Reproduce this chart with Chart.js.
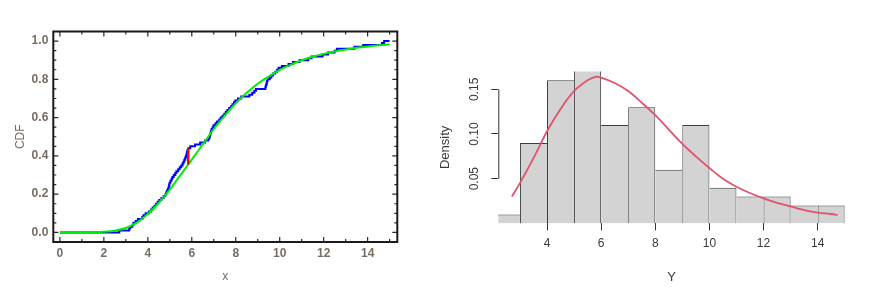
<!DOCTYPE html>
<html><head><meta charset="utf-8">
<script src="https://cdn.jsdelivr.net/npm/chart.js"></script>
<style>
html,body{margin:0;padding:0;background:#fff;}
#wrap{position:relative;width:873px;height:290px;overflow:hidden;background:#fff;}
#c1{position:absolute;left:0;top:0;}
#c2{position:absolute;left:420px;top:0;}
</style></head><body>
<div id="wrap"><canvas id="c1" width="420" height="290"></canvas><canvas id="c2" width="453" height="290"></canvas></div>
<script>
// ---------- Left panel: empirical CDF vs fitted CDF ----------
const cdfXTicks = [0, 2, 4, 6, 8, 10, 12, 14];
const cdfYTicks = [0.0, 0.2, 0.4, 0.6, 0.8, 1.0];
// step positions of the empirical CDF and the value after each step
const ecdfX = [0, 2.70, 3.15, 3.20, 3.30, 3.35, 3.45, 3.55, 3.75, 3.80, 3.90,
  4.05, 4.15, 4.22, 4.30, 4.38, 4.45, 4.52, 4.62, 4.72, 4.80, 4.84, 4.88, 4.92, 4.95, 4.97, 4.99,
  5.03, 5.08, 5.12, 5.18, 5.25, 5.30, 5.38, 5.45, 5.52, 5.58, 5.62, 5.66, 5.70, 5.73, 5.76, 5.78, 5.80, 5.84, 5.93,
  6.15, 6.38, 6.60, 6.75, 6.80, 6.83, 6.85, 6.87, 6.90, 6.95, 6.99,
  7.08, 7.15, 7.25, 7.32, 7.40, 7.48, 7.55, 7.62, 7.70, 7.78, 7.85, 7.92, 7.98,
  8.10, 8.25, 8.62, 8.75, 8.85, 8.92,
  9.35, 9.37, 9.40, 9.42, 9.45, 9.55, 9.62, 9.70, 9.80, 9.88, 9.95,
  10.10, 10.40, 10.60, 10.90, 11.30, 11.45, 11.95, 12.20, 12.50, 12.60, 13.40, 13.80, 14.65, 14.75, 15.0];
const ecdfY = [0, 0.01, 0.02, 0.03, 0.04, 0.05, 0.06, 0.07, 0.08, 0.09, 0.10,
  0.11, 0.12, 0.13, 0.14, 0.15, 0.16, 0.17, 0.18, 0.19, 0.20, 0.21, 0.22, 0.23, 0.24, 0.25, 0.26,
  0.27, 0.28, 0.29, 0.30, 0.31, 0.32, 0.33, 0.34, 0.35, 0.36, 0.37, 0.38, 0.39, 0.40, 0.41, 0.42, 0.43, 0.44, 0.45,
  0.46, 0.47, 0.48, 0.49, 0.50, 0.51, 0.52, 0.53, 0.54, 0.55, 0.56,
  0.57, 0.58, 0.59, 0.60, 0.61, 0.62, 0.63, 0.64, 0.65, 0.66, 0.67, 0.68, 0.69,
  0.70, 0.71, 0.72, 0.73, 0.74, 0.75,
  0.76, 0.77, 0.78, 0.79, 0.80, 0.81, 0.82, 0.83, 0.84, 0.85, 0.86,
  0.87, 0.88, 0.89, 0.90, 0.91, 0.92, 0.93, 0.94, 0.95, 0.96, 0.97, 0.98, 0.99, 1.00, 1.00];
// fitted CDF (green)
const fitX = [0, 1, 1.5, 2, 2.5, 3, 3.5, 4, 4.5, 5, 5.5, 6, 6.5, 7, 7.5, 8, 8.5, 9, 9.5, 10, 10.5, 11, 11.5, 12, 12.5, 13, 13.5, 14, 14.5, 15];
const fitY = [0, 0, 0.0005, 0.003, 0.009, 0.023, 0.051, 0.096, 0.155, 0.224, 0.302, 0.38, 0.46, 0.54, 0.61, 0.675, 0.73, 0.777, 0.815, 0.85, 0.876, 0.90, 0.918, 0.933, 0.946, 0.956, 0.965, 0.972, 0.978, 0.983];
// Kolmogorov-Smirnov gap (red)
const ksX = [5.84, 5.84];
const ksY = [0.355, 0.44];

// ---------- Right panel: histogram of Y with density ----------
const binStarts = [2, 3, 4, 5, 6, 7, 8, 9, 10, 11, 12, 13, 14];
const densities = [0.01, 0.09, 0.16, 0.19, 0.11, 0.13, 0.06, 0.11, 0.04, 0.03, 0.03, 0.02, 0.02];
const curveX = [2.7, 3.0, 3.5, 4.0, 4.5, 5.0, 5.5, 5.8, 6.0, 6.5, 7.0, 7.5, 8.0, 8.5, 9.0, 9.5, 10.0, 10.5, 11.0, 11.5, 12.0, 12.5, 13.0, 13.5, 14.0, 14.5, 14.74];
const curveY = [0.030, 0.045, 0.073, 0.103, 0.128, 0.148, 0.160, 0.164, 0.163, 0.157, 0.148, 0.135, 0.121, 0.105, 0.089, 0.075, 0.062, 0.050, 0.041, 0.034, 0.028, 0.023, 0.019, 0.015, 0.012, 0.0105, 0.0093];
const histXTicks = [4, 6, 8, 10, 12, 14];
const histYTicks = [0.05, 0.10, 0.15];
const histYLabels = ['0.05', '0.10', '0.15'];

const SANS = "'Liberation Sans', Arial, sans-serif";
const mmaLabel = '#776d63';

// Mathematica-style frame with inward ticks
const framePlugin = {
  id: 'mmaFrame',
  afterDatasetsDraw(chart) {
    const {ctx, chartArea: a, scales: {x, y}} = chart;
    ctx.save();
    ctx.strokeStyle = '#2a2a2a';
    ctx.lineWidth = 1.2;
    ctx.beginPath();
    for (let v = 0; v <= 15; v += 1) {
      const px = x.getPixelForValue(v);
      const len = v % 2 === 0 ? 5 : 3;
      ctx.moveTo(px, a.bottom); ctx.lineTo(px, a.bottom - len);
      ctx.moveTo(px, a.top); ctx.lineTo(px, a.top + len);
    }
    for (let k = 0; k <= 20; k++) {
      const v = k * 0.05;
      const py = y.getPixelForValue(v);
      const len = k % 4 === 0 ? 5 : 3;
      ctx.moveTo(a.left, py); ctx.lineTo(a.left + len, py);
      ctx.moveTo(a.right, py); ctx.lineTo(a.right - len, py);
    }
    ctx.stroke();
    ctx.lineWidth = 2;
    ctx.strokeStyle = '#1a1a1a';
    ctx.strokeRect(a.left, a.top, a.right - a.left, a.bottom - a.top);
    ctx.restore();
  }
};

new Chart(document.getElementById('c1'), {
  type: 'line',
  data: {
    datasets: [
      { data: ksX.map((v, i) => ({x: v, y: ksY[i]})), borderColor: '#ff0000', borderWidth: 2.5, pointRadius: 0 },
      { data: fitX.map((v, i) => ({x: v, y: fitY[i]})), borderColor: '#00ee00', borderWidth: 2, pointRadius: 0, cubicInterpolationMode: 'monotone' },
      { data: ecdfX.map((v, i) => ({x: v, y: ecdfY[i]})), borderColor: '#0000ff', borderWidth: 2, pointRadius: 0, stepped: 'before' }
    ]
  },
  options: {
    responsive: false, animation: false, events: [],
    layout: { padding: { top: 31.5, right: 22.7, left: 0, bottom: 0 } },
    plugins: { legend: { display: false }, tooltip: { enabled: false } },
    scales: {
      x: {
        type: 'linear', min: -0.3, max: 15.35,
        afterBuildTicks: s => { s.ticks = cdfXTicks.map(v => ({value: v})); },
        afterFit: s => { s.height = 48; },
        grid: { display: false, drawTicks: false, tickLength: 0 }, border: { display: false },
        ticks: { autoSkip: false, maxRotation: 0, padding: 4, color: mmaLabel,
          font: { family: SANS, size: 12, weight: 'bold' }, callback: v => String(v) },
        title: { display: true, text: 'x', color: mmaLabel, font: { family: SANS, size: 12 }, padding: { top: 0, bottom: 5.8 } }
      },
      y: {
        type: 'linear', min: -0.05, max: 1.05,
        afterBuildTicks: s => { s.ticks = cdfYTicks.map(v => ({value: v})); },
        afterFit: s => { s.width = 53.3; },
        grid: { display: false, drawTicks: false, tickLength: 0 }, border: { display: false },
        ticks: { autoSkip: false, padding: 5, color: mmaLabel,
          font: { family: SANS, size: 12, weight: 'bold' }, callback: v => Number(v).toFixed(1) },
        title: { display: true, text: 'CDF', color: mmaLabel, font: { family: SANS, size: 12 }, padding: { top: 13, bottom: 0 } }
      }
    }
  },
  plugins: [framePlugin]
});

// R-style y axis line spanning first to last tick
const rAxisPlugin = {
  id: 'rAxis',
  afterDraw(chart) {
    const {ctx, chartArea: a, scales: {y}} = chart;
    ctx.save();
    ctx.strokeStyle = '#333';
    ctx.lineWidth = 1;
    ctx.beginPath();
    ctx.moveTo(a.left + 0.5, y.getPixelForValue(histYTicks[0]));
    ctx.lineTo(a.left + 0.5, y.getPixelForValue(histYTicks[histYTicks.length - 1]));
    ctx.stroke();
    ctx.restore();
  }
};

const rText = '#3a3a3a';
new Chart(document.getElementById('c2'), {
  type: 'bar',
  data: {
    datasets: [
      { type: 'line', data: curveX.map((v, i) => ({x: v, y: curveY[i]})), borderColor: '#DF536B', borderWidth: 1.8,
        pointRadius: 0, tension: 0.4 },
      { type: 'bar', data: binStarts.map((s, i) => ({x: s + 0.5, y: densities[i]})),
        backgroundColor: '#d3d3d3', borderColor: '#3c3c3c',
        borderWidth: ctx => {
          const i = ctx.dataIndex;
          if (i === undefined) return 1;
          const h = densities;
          return { top: 1, bottom: 0,
            left: (i === 0 || h[i] >= h[i - 1]) ? 1 : 0,
            right: (i === h.length - 1 || h[i] > h[i + 1]) ? 1 : 0 };
        },
        barPercentage: 1, categoryPercentage: 1, inflateAmount: 0, clip: 0 }
    ]
  },
  options: {
    responsive: false, animation: false, events: [],
    layout: { padding: { top: 71.4, right: 28.3, left: 0, bottom: 0 } },
    plugins: { legend: { display: false }, tooltip: { enabled: false } },
    scales: {
      x: {
        type: 'linear', min: 2.2, max: 15, offset: false,
        afterBuildTicks: s => { s.ticks = histXTicks.map(v => ({value: v})); },
        afterFit: s => { s.height = 66.6; },
        grid: { drawOnChartArea: false, drawTicks: true, tickLength: 7, color: '#333', offset: false },
        border: { display: false },
        ticks: { autoSkip: false, maxRotation: 0, padding: 6, color: rText,
          font: { family: SANS, size: 12 }, callback: v => String(v) },
        title: { display: true, text: 'Y', color: rText, font: { family: SANS, size: 13 }, padding: { top: 0, bottom: 5.2 } }
      },
      y: {
        type: 'linear', min: 0, max: 0.17,
        afterBuildTicks: s => { s.ticks = histYTicks.map(v => ({value: v})); },
        afterFit: s => { s.width = 78.3; },
        grid: { drawOnChartArea: false, drawTicks: true, tickLength: 7, color: '#333' },
        border: { display: false },
        ticks: { autoSkip: false, minRotation: 90, maxRotation: 90, crossAlign: 'center', padding: 5, color: rText,
          font: { family: SANS, size: 12 }, callback: (v, i) => histYLabels[i] },
        title: { display: true, text: 'Density', color: rText, font: { family: SANS, size: 13 }, padding: { top: 17.2, bottom: 0 } }
      }
    }
  },
  plugins: [rAxisPlugin]
});
</script>
</body></html>
